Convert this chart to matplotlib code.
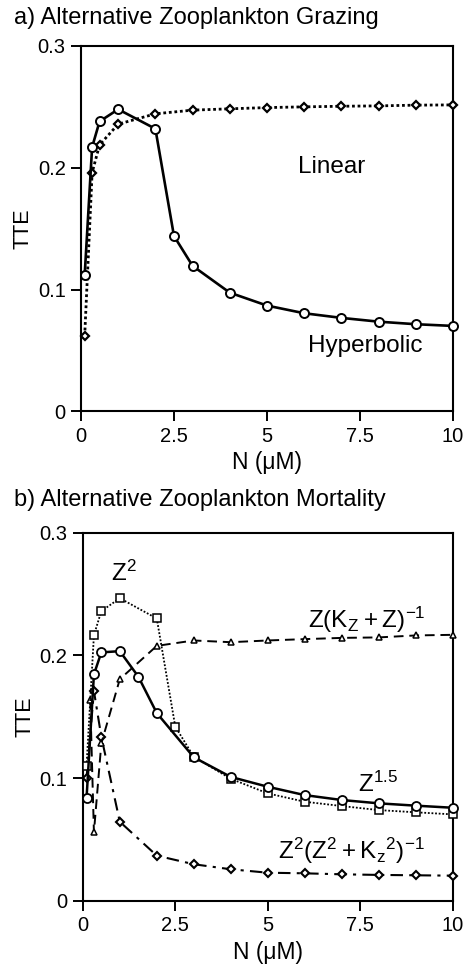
import matplotlib
matplotlib.use("Agg")
import matplotlib.pyplot as plt

plt.rcParams["font.family"] = ["Liberation Sans", "DejaVu Sans"]
plt.rcParams["mathtext.default"] = "regular"

# panel a: alternative grazing
n_hyper = [0.1, 0.3, 0.5, 1, 2, 2.5, 3, 4, 5, 6, 7, 8, 9, 10]
tte_hyper = [0.112, 0.217, 0.238, 0.248, 0.232, 0.144, 0.1195, 0.0975, 0.0869,
             0.0806, 0.0768, 0.0737, 0.0716, 0.0702]
n_linear = [0.1, 0.3, 0.5, 1, 2, 3, 4, 5, 6, 7, 8, 9, 10]
tte_linear = [0.062, 0.196, 0.2188, 0.2358, 0.2443, 0.2473, 0.2484, 0.2494,
              0.250, 0.2505, 0.2508, 0.2514, 0.2516]

# panel b: alternative mortality
n_z2 = [0.1, 0.3, 0.5, 1, 2, 2.5, 3, 4, 5, 6, 7, 8, 9, 10]
tte_z2 = [0.110, 0.2164, 0.236, 0.2465, 0.230, 0.142, 0.1174, 0.0995, 0.0876,
          0.0808, 0.0773, 0.074, 0.0722, 0.0705]
n_z15 = [0.1, 0.3, 0.5, 1, 1.5, 2, 3, 4, 5, 6, 7, 8, 9, 10]
tte_z15 = [0.0836, 0.1845, 0.2024, 0.2034, 0.1827, 0.153, 0.117, 0.101, 0.093,
           0.0862, 0.0822, 0.0795, 0.0776, 0.0759]
n_hyp = [0.2, 0.3, 0.5, 1, 2, 3, 4, 5, 6, 7, 8, 9, 10]
tte_hyp = [0.1635, 0.0559, 0.1283, 0.1806, 0.2077, 0.2121, 0.2107, 0.2121, 0.2132,
           0.2142, 0.2146, 0.2162, 0.2167]
n_sig = [0.1, 0.3, 0.5, 1, 2, 3, 4, 5, 6, 7, 8, 9, 10]
tte_sig = [0.0998, 0.1709, 0.1337, 0.0645, 0.0369, 0.0299, 0.0258, 0.023,
           0.0225, 0.0217, 0.0212, 0.0209, 0.0206]

x_ticks = [0, 2.5, 5, 7.5, 10]
x_labels = ["0", "2.5", "5", "7.5", "10"]
y_ticks = [0, 0.1, 0.2, 0.3]
y_labels = ["0", "0.1", "0.2", "0.3"]

fig = plt.figure(figsize=(4.68, 9.67), dpi=100)
ax_a = fig.add_axes([0.173, 0.5745, 0.795, 0.378])
ax_b = fig.add_axes([0.177, 0.0683, 0.790, 0.381])


def style_axes(ax):
    ax.set_xlim(0, 10)
    ax.set_ylim(0, 0.3)
    ax.set_xticks(x_ticks)
    ax.set_xticklabels(x_labels)
    ax.set_yticks(y_ticks)
    ax.set_yticklabels(y_labels)
    ax.tick_params(direction="out", length=7, width=1.4, labelsize=14.5, pad=4,
                   top=False, right=False)
    for s in ax.spines.values():
        s.set_linewidth(1.5)
    ax.set_xlabel("N (μM)", fontsize=16.5, labelpad=4)
    ax.set_ylabel("TTE", fontsize=15.5, labelpad=3)


common = dict(markerfacecolor="white", markeredgecolor="black", color="black",
              clip_on=False, zorder=3)

ax_a.plot(n_linear, tte_linear, linestyle=(0, (1, 1)), lw=2, marker="D", ms=4,
          mew=1.6, **common)
ax_a.plot(n_hyper, tte_hyper, linestyle="-", lw=1.9, marker="o", ms=6.5, mew=1.4,
          **common)
style_axes(ax_a)
ax_a.text(6.75, 0.2007, "Linear", fontsize=17.5, ha="center", va="center")
ax_a.text(7.63, 0.054, "Hyperbolic", fontsize=17.5, ha="center", va="center")

ax_b.plot(n_sig, tte_sig, linestyle=(0, (6, 3, 1.5, 3)), lw=1.5, marker="D", ms=3.8,
          mew=1.5, **common)
ax_b.plot(n_hyp, tte_hyp, linestyle=(0, (5, 3)), lw=1.4, marker="^", ms=5,
          mew=1.1, **common)
ax_b.plot(n_z2, tte_z2, linestyle=(0, (1, 1)), lw=1.3, marker="s", ms=6,
          mew=1.1, **common)
ax_b.plot(n_z15, tte_z15, linestyle="-", lw=1.8, marker="o", ms=6.5, mew=1.3,
          **common)
style_axes(ax_b)
ax_b.text(1.1, 0.267, "$Z^2$", fontsize=17.5, ha="center", va="center")
ax_b.text(7.68, 0.229, "$Z(K_Z + Z)^{-1}$", fontsize=17.5, ha="center", va="center")
ax_b.text(7.98, 0.095, "$Z^{1.5}$", fontsize=17.5, ha="center", va="center")
ax_b.text(7.27, 0.041, "$Z^2(Z^2 + K_z{}^2)^{-1}$", fontsize=17.5, ha="center",
          va="center")

fig.text(14 / 468, 1 - 18 / 967, "a) Alternative Zooplankton Grazing",
         fontsize=17, ha="left", va="center")
fig.text(14 / 468, 1 - 500 / 967, "b) Alternative Zooplankton Mortality",
         fontsize=17, ha="left", va="center")

fig.savefig("out.png", dpi=100)
